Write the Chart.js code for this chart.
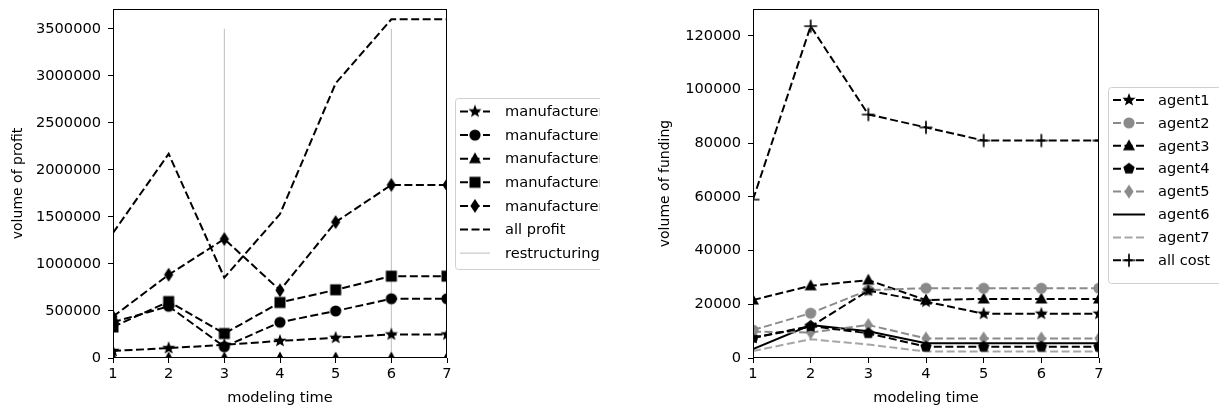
<!DOCTYPE html>
<html><head><meta charset="utf-8">
<script src="https://cdn.jsdelivr.net/npm/chart.js@4.4.0/dist/chart.umd.min.js"></script>
<style>
html,body{margin:0;padding:0;background:#fff;}
#wrap{position:relative;width:1219px;height:407px;overflow:hidden;background:#fff;}
#lw{position:absolute;left:0;top:0;width:600px;height:407px;overflow:hidden;}
#rw{position:absolute;left:600px;top:0;width:619px;height:407px;overflow:hidden;}
canvas{display:block;}
</style></head><body>
<div id="wrap">
  <div id="lw"><canvas id="c1" width="700" height="407"></canvas></div>
  <div id="rw"><canvas id="c2" width="619" height="407"></canvas></div>
</div>
<script>
// ---------- data ----------
const modelingTime = [1, 2, 3, 4, 5, 6, 7];
const timeTicks = [1, 2, 3, 4, 5, 6, 7];

const profitTicks = [0, 500000, 1000000, 1500000, 2000000, 2500000, 3000000, 3500000];
const manufacturer1 = [75000, 105000, 140000, 182000, 215000, 250000, 250000];
const manufacturer2 = [380000, 550000, 120000, 380000, 500000, 630000, 630000];
const manufacturer3 = [0, 0, 0, 0, 0, 0, 0];
const manufacturer4 = [330000, 600000, 260000, 590000, 725000, 870000, 870000];
const manufacturer5 = [440000, 885000, 1265000, 720000, 1445000, 1840000, 1840000];
const allProfit = [1330000, 2170000, 855000, 1530000, 2920000, 3600000, 3600000];
const restructuringTimes = [3, 6];
const restructuringTop = 3500000;
const profitMax = 3710000;

const fundingTicks = [0, 20000, 40000, 60000, 80000, 100000, 120000];
const agent1 = [7500, 11700, 25100, 21000, 16500, 16500, 16500];
const agent2 = [10400, 16700, 25300, 26000, 26000, 26000, 26000];
const agent3 = [21600, 26900, 29000, 21600, 22000, 22000, 22000];
const agent4 = [7500, 11900, 9200, 4200, 4200, 4200, 4200];
const agent5 = [9800, 9500, 12300, 7300, 7300, 7300, 7300];
const agent6 = [3300, 12300, 10000, 5500, 5500, 5500, 5500];
const agent7 = [2600, 7000, 5000, 2400, 2400, 2400, 2400];
const allCost = [59000, 123600, 90700, 85900, 81000, 81000, 81000];
const fundingMax = 130000;

// ---------- styles ----------
const FONT = 'DejaVu Sans';
const BLACK = '#000000';
const GREY = '#8a8a8a';
const LIGHTGREY = '#a6a6a6';
const DASH = [8, 3.5];

function marker(shape, color) {
  const s = 18, c = document.createElement('canvas');
  c.width = s; c.height = s;
  const g = c.getContext('2d');
  const cx = s / 2, cy = s / 2;
  g.fillStyle = color; g.strokeStyle = color;
  g.beginPath();
  if (shape === 'circle') { g.arc(cx, cy, 5.6, 0, Math.PI * 2); g.fill(); }
  else if (shape === 'square') { g.fillRect(cx - 5.5, cy - 5.5, 11, 11); }
  else if (shape === 'triangle') { g.moveTo(cx, cy - 6.6); g.lineTo(cx + 6, cy + 4.4); g.lineTo(cx - 6, cy + 4.4); g.closePath(); g.fill(); }
  else if (shape === 'star') {
    for (let i = 0; i < 10; i++) {
      const r = i % 2 ? 2.9 : 6.9, a = -Math.PI / 2 + i * Math.PI / 5;
      const px = cx + r * Math.cos(a), py = cy + r * Math.sin(a);
      i ? g.lineTo(px, py) : g.moveTo(px, py);
    }
    g.closePath(); g.fill();
  }
  else if (shape === 'pentagon') {
    for (let i = 0; i < 5; i++) {
      const a = -Math.PI / 2 + i * 2 * Math.PI / 5;
      const px = cx + 6 * Math.cos(a), py = cy + 6 * Math.sin(a);
      i ? g.lineTo(px, py) : g.moveTo(px, py);
    }
    g.closePath(); g.fill();
  }
  else if (shape === 'diamond') { g.moveTo(cx, cy - 7); g.lineTo(cx + 4.6, cy); g.lineTo(cx, cy + 7); g.lineTo(cx - 4.6, cy); g.closePath(); g.fill(); }
  else if (shape === 'plus') { g.lineWidth = 1.7; g.moveTo(cx - 6.5, cy); g.lineTo(cx + 6.5, cy); g.moveTo(cx, cy - 6.5); g.lineTo(cx, cy + 6.5); g.stroke(); }
  return c;
}

function series(label, values, color, shape, dashed, width) {
  const m = shape ? marker(shape, color) : null;
  return {
    label,
    data: modelingTime.map((t, i) => ({ x: t, y: values[i] })),
    borderColor: color, backgroundColor: color,
    borderWidth: width || 2,
    borderDash: dashed ? DASH : [],
    pointStyle: m || 'circle',
    pointRadius: m ? 5 : 0,
    clip: 0, tension: 0,
    _marker: m
  };
}

function restructuringData() {
  const out = [];
  restructuringTimes.forEach(t => {
    out.push({ x: t, y: 0 }, { x: t, y: restructuringTop }, { x: t, y: null });
  });
  return out;
}

const framePlugin = {
  id: 'frame',
  afterDatasetsDraw(chart) {
    const a = chart.chartArea, ctx = chart.ctx;
    ctx.save();
    ctx.strokeStyle = '#000'; ctx.lineWidth = 1;
    ctx.strokeRect(Math.round(a.left) + 0.5, Math.round(a.top) + 0.5,
      Math.round(a.right) - Math.round(a.left) - 1, Math.round(a.bottom) - Math.round(a.top) - 1);
    ctx.restore();
  }
};

function legendPlugin(cfg) {
  return {
    id: 'customLegend',
    afterDraw(chart) {
      const ctx = chart.ctx;
      ctx.save();
      ctx.beginPath();
      ctx.roundRect(cfg.x + 0.5, cfg.y + 0.5, cfg.w, cfg.h, 3);
      ctx.fillStyle = 'rgba(255,255,255,0.85)';
      ctx.fill();
      ctx.strokeStyle = '#d0d0d0'; ctx.lineWidth = 1;
      ctx.stroke();
      chart.data.datasets.forEach((d, i) => {
        const y = cfg.row0 + i * cfg.step;
        ctx.beginPath();
        ctx.strokeStyle = d.borderColor;
        ctx.lineWidth = d.borderWidth;
        ctx.setLineDash(d.borderDash || []);
        ctx.moveTo(cfg.lx0, y); ctx.lineTo(cfg.lx1, y);
        ctx.stroke();
        ctx.setLineDash([]);
        if (d._marker) ctx.drawImage(d._marker, (cfg.lx0 + cfg.lx1) / 2 - d._marker.width / 2, y - d._marker.height / 2);
        ctx.fillStyle = '#000';
        ctx.font = '14.6px "' + FONT + '"';
        ctx.textBaseline = 'middle';
        ctx.textAlign = 'left';
        ctx.fillText(d.label, cfg.tx, y + 1);
      });
      ctx.restore();
    }
  };
}

function scalesCfg(yTicks, yMax, yTitle, yWidth, xTitle) {
  const tickFont = { family: FONT, size: 14.6 };
  return {
    x: {
      type: 'linear', min: 1, max: 7,
      afterBuildTicks: s => { s.ticks = timeTicks.map(v => ({ value: v })); },
      afterFit: s => { s.height = 49; s.paddingLeft = 0; s.paddingRight = 0; },
      grid: { drawOnChartArea: false, drawTicks: true, tickLength: 5, color: '#000' },
      border: { display: false },
      ticks: { font: tickFont, color: '#000', padding: 2, maxRotation: 0, callback: v => String(v) },
      title: { display: true, text: xTitle, font: { family: FONT, size: 14.6 }, color: '#000', padding: { top: 0, bottom: 0 } }
    },
    y: {
      type: 'linear', min: 0, max: yMax,
      afterBuildTicks: s => { s.ticks = yTicks.map(v => ({ value: v })); },
      afterFit: s => { s.width = yWidth; s.paddingTop = 0; s.paddingBottom = 0; },
      grid: { drawOnChartArea: false, drawTicks: true, tickLength: 5, color: '#000' },
      border: { display: false },
      ticks: { font: tickFont, color: '#000', padding: 7, callback: v => String(v) },
      title: { display: true, text: yTitle, font: { family: FONT, size: 14 }, color: '#000', padding: { top: 10, bottom: 0 } }
    }
  };
}

Chart.defaults.font.family = FONT;

// ---------- left chart ----------
const leftDatasets = [
  series('manufacturer1', manufacturer1, BLACK, 'star', true),
  series('manufacturer2', manufacturer2, BLACK, 'circle', true),
  series('manufacturer3', manufacturer3, BLACK, 'triangle', true),
  series('manufacturer4', manufacturer4, BLACK, 'square', true),
  series('manufacturer5', manufacturer5, BLACK, 'diamond', true),
  series('all profit', allProfit, BLACK, null, true),
  {
    label: 'restructuring', data: restructuringData(),
    borderColor: '#bdbdbd', backgroundColor: '#bdbdbd', borderWidth: 1, borderDash: [],
    pointRadius: 0, spanGaps: false, clip: 0, _marker: null
  }
];

new Chart(document.getElementById('c1'), {
  type: 'line',
  data: { datasets: leftDatasets },
  options: {
    responsive: false, animation: false, events: [],
    layout: { padding: { left: 0, top: 9, right: 253, bottom: 0 } },
    plugins: { legend: { display: false }, tooltip: { enabled: false } },
    scales: scalesCfg(profitTicks, profitMax, 'volume of profit', 113, 'modeling time')
  },
  plugins: [framePlugin, legendPlugin({ x: 455, y: 98, w: 220, h: 171, row0: 111.5, step: 23.6, lx0: 460, lx1: 490, tx: 505 })]
});

// ---------- right chart ----------
const rightDatasets = [
  series('agent1', agent1, BLACK, 'star', true),
  series('agent2', agent2, GREY, 'circle', true),
  series('agent3', agent3, BLACK, 'triangle', true),
  series('agent4', agent4, BLACK, 'pentagon', true),
  series('agent5', agent5, GREY, 'diamond', true),
  series('agent6', agent6, BLACK, null, false),
  series('agent7', agent7, LIGHTGREY, null, true),
  series('all cost', allCost, BLACK, 'plus', true)
];

new Chart(document.getElementById('c2'), {
  type: 'line',
  data: { datasets: rightDatasets },
  options: {
    responsive: false, animation: false, events: [],
    layout: { padding: { left: 47, top: 9, right: 120, bottom: 0 } },
    plugins: { legend: { display: false }, tooltip: { enabled: false } },
    scales: scalesCfg(fundingTicks, fundingMax, 'volume of funding', 106, 'modeling time')
  },
  plugins: [framePlugin, legendPlugin({ x: 508, y: 87, w: 200, h: 196, row0: 100, step: 22.9, lx0: 513, lx1: 545, tx: 558 })]
});
</script>
</body></html>
